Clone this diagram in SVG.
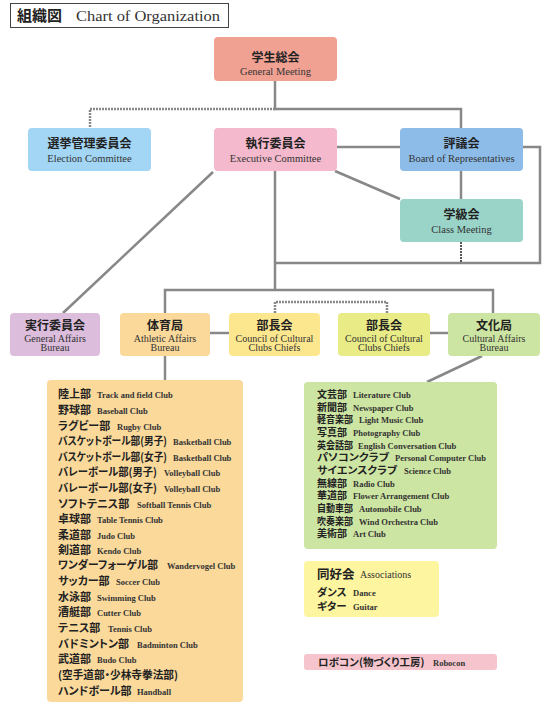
<svg xmlns="http://www.w3.org/2000/svg" width="550" height="710" viewBox="0 0 550 710">
<style>
.jp{font-family:"Noto Sans CJK JP","Noto Sans",sans-serif;font-weight:bold;fill:#222}
.en{font-family:"Liberation Serif","DejaVu Serif",serif;fill:#333;font-weight:normal}
.ln{stroke:#888;stroke-width:2.5;fill:none}
.dt{stroke:#888;stroke-width:2.5;fill:none;stroke-dasharray:2 1}
.bk{stroke:#222;stroke-width:1.5;fill:none;stroke-dasharray:2 1}
.nj{font-size:12px;text-anchor:middle}
.ne{font-size:10.5px;text-anchor:middle}
.be{font-size:10px;text-anchor:middle}
.p{font-feature-settings:"palt"}
.a .jp{font-size:11px}
.a .en{font-size:8.5px;font-weight:bold}
.c .jp{font-size:10px}
.c .en{font-size:8.5px;font-weight:bold}
.s .jp{font-size:10.5px}
.s .en{font-size:8.5px;font-weight:bold}
</style>
<rect width="550" height="710" fill="#fff"/>
<g id="title">
<rect x="10.5" y="3.5" width="218" height="24" fill="#fff" stroke="#444" stroke-width="1"/>
<text x="17" y="21" class="jp" font-size="15">組織図</text>
<text x="76" y="20.5" class="en" font-size="15" textLength="144" lengthAdjust="spacingAndGlyphs">Chart of Organization</text>
</g>
<g id="connectors">
<polyline class="ln" points="275,81 275,109 461,109 461,128"/>
<polyline class="dt" points="275,109 90,109 90,128"/>
<line class="ln" x1="275" y1="171" x2="275" y2="290"/>
<line class="ln" x1="337" y1="147" x2="400" y2="147"/>
<polyline class="ln" points="523,147 540,147 540,263 275,263"/>
<line class="ln" x1="461" y1="171" x2="461" y2="199"/>
<line class="ln" x1="335" y1="171" x2="400" y2="199"/>
<line class="bk" x1="461" y1="242" x2="461" y2="263"/>
<line class="ln" x1="213" y1="172" x2="63" y2="313"/>
<polyline class="ln" points="165,313 165,290 493,290 493,313"/>
<polyline class="dt" points="275,313 275,302 387,302 387,313"/>
<line class="ln" x1="210" y1="333" x2="229" y2="333"/>
<line class="ln" x1="430" y1="333" x2="448" y2="333"/>
<line class="ln" x1="165" y1="356" x2="165" y2="380"/>
<line class="ln" x1="482" y1="356" x2="427" y2="382"/>
</g>
<g id="general-meeting">
<rect x="214" y="37" width="123" height="44" rx="4" fill="#f0a192"/>
<text x="275.5" y="62" class="jp nj" font-size="13">学生総会</text>
<text x="275.5" y="75" class="en ne">General Meeting</text>
</g>
<g id="election-committee">
<rect x="28" y="128" width="123" height="43" rx="4" fill="#a2d6f4"/>
<text x="89.5" y="148" class="jp nj">選挙管理委員会</text>
<text x="89.5" y="162" class="en ne">Election Committee</text>
</g>
<g id="executive-committee">
<rect x="214" y="128" width="123" height="43" rx="4" fill="#f4b9cc"/>
<text x="275.5" y="148" class="jp nj">執行委員会</text>
<text x="275.5" y="162" class="en ne">Executive Committee</text>
</g>
<g id="board">
<rect x="400" y="128" width="123" height="43" rx="4" fill="#8dbce8"/>
<text x="461.5" y="148" class="jp nj">評議会</text>
<text x="461.5" y="162" class="en ne">Board of Representatives</text>
</g>
<g id="class-meeting">
<rect x="400" y="199" width="123" height="43" rx="4" fill="#9ad4c9"/>
<text x="461.5" y="219" class="jp nj">学級会</text>
<text x="461.5" y="233" class="en ne">Class Meeting</text>
</g>
<g id="general-affairs">
<rect x="10" y="313" width="90" height="43" rx="4" fill="#dcbddc"/>
<text x="55" y="329.5" class="jp nj">実行委員会</text>
<text x="55" y="341.5" class="en be">General Affairs</text>
<text x="55" y="350.5" class="en be">Bureau</text>
</g>
<g id="athletic-affairs">
<rect x="120" y="313" width="90" height="43" rx="4" fill="#fad99b"/>
<text x="165" y="329.5" class="jp nj">体育局</text>
<text x="165" y="341.5" class="en be">Athletic Affairs</text>
<text x="165" y="350.5" class="en be">Bureau</text>
</g>
<g id="council-1">
<rect x="229" y="313" width="91" height="43" rx="4" fill="#fde78e"/>
<text x="274.5" y="329.5" class="jp nj">部長会</text>
<text x="274.5" y="341.5" class="en be">Council of Cultural</text>
<text x="274.5" y="350.5" class="en be">Clubs Chiefs</text>
</g>
<g id="council-2">
<rect x="338" y="313" width="92" height="43" rx="4" fill="#e8eb86"/>
<text x="384" y="329.5" class="jp nj">部長会</text>
<text x="384" y="341.5" class="en be">Council of Cultural</text>
<text x="384" y="350.5" class="en be">Clubs Chiefs</text>
</g>
<g id="cultural-affairs">
<rect x="448" y="313" width="92" height="43" rx="4" fill="#cde5a2"/>
<text x="494" y="329.5" class="jp nj">文化局</text>
<text x="494" y="341.5" class="en be">Cultural Affairs</text>
<text x="494" y="350.5" class="en be">Bureau</text>
</g>
<g id="athletic-clubs" class="a">
<rect x="47" y="380" width="196" height="322" rx="4" fill="#fad99b"/>
<text x="58" y="398" class="jp p">陸上部</text><text x="97" y="398" class="en">Track and field Club</text>
<text x="58" y="414" class="jp p">野球部</text><text x="97" y="414" class="en">Baseball Club</text>
<text x="58" y="430" class="jp p">ラグビー部</text><text x="117" y="430" class="en">Rugby Club</text>
<text x="58" y="445" class="jp p" textLength="109" lengthAdjust="spacingAndGlyphs">バスケットボール部(男子)</text><text x="173" y="445" class="en">Basketball Club</text>
<text x="58" y="461" class="jp p" textLength="109" lengthAdjust="spacingAndGlyphs">バスケットボール部(女子)</text><text x="173" y="461" class="en">Basketball Club</text>
<text x="58" y="476" class="jp p" textLength="99" lengthAdjust="spacingAndGlyphs">バレーボール部(男子)</text><text x="164" y="476" class="en">Volleyball Club</text>
<text x="58" y="492" class="jp p" textLength="99" lengthAdjust="spacingAndGlyphs">バレーボール部(女子)</text><text x="164" y="492" class="en">Volleyball Club</text>
<text x="58" y="508" class="jp p">ソフトテニス部</text><text x="137" y="508" class="en">Softball Tennis Club</text>
<text x="58" y="523" class="jp p">卓球部</text><text x="97" y="523" class="en">Table Tennis Club</text>
<text x="58" y="539" class="jp p">柔道部</text><text x="97" y="539" class="en">Judo Club</text>
<text x="58" y="554" class="jp p">剣道部</text><text x="97" y="554" class="en">Kendo Club</text>
<text x="58" y="569" class="jp p" textLength="100" lengthAdjust="spacingAndGlyphs">ワンダーフォーゲル部</text><text x="167" y="569" class="en">Wandervogel Club</text>
<text x="58" y="585" class="jp p">サッカー部</text><text x="116" y="585" class="en">Soccer Club</text>
<text x="58" y="601" class="jp p">水泳部</text><text x="97" y="601" class="en">Swimming Club</text>
<text x="58" y="616" class="jp p">漕艇部</text><text x="97" y="616" class="en">Cutter Club</text>
<text x="58" y="632" class="jp p">テニス部</text><text x="108" y="632" class="en">Tennis Club</text>
<text x="58" y="648" class="jp p">バドミントン部</text><text x="137" y="648" class="en">Badminton Club</text>
<text x="58" y="663" class="jp p">武道部</text><text x="97" y="663" class="en">Budo Club</text>
<text x="58" y="679" class="jp p" textLength="120" lengthAdjust="spacingAndGlyphs">(空手道部・少林寺拳法部)</text>
<text x="58" y="695" class="jp p">ハンドボール部</text><text x="137" y="695" class="en">Handball</text>
</g>
<g id="cultural-clubs" class="c">
<rect x="304" y="382" width="193" height="167" rx="4" fill="#cde5a2"/>
<text x="317" y="398" class="jp p">文芸部</text><text x="353" y="398" class="en">Literature Club</text>
<text x="317" y="411" class="jp p">新聞部</text><text x="353" y="411" class="en">Newspaper Club</text>
<text x="317" y="423" class="jp p" textLength="36" lengthAdjust="spacingAndGlyphs">軽音楽部</text><text x="359" y="423" class="en">Light Music Club</text>
<text x="317" y="436" class="jp p">写真部</text><text x="353" y="436" class="en">Photography Club</text>
<text x="317" y="449" class="jp p" textLength="36" lengthAdjust="spacingAndGlyphs">英会話部</text><text x="358" y="449" class="en">English Conversation Club</text>
<text x="317" y="461" class="jp p" textLength="72" lengthAdjust="spacingAndGlyphs">パソコンクラブ</text><text x="395" y="461" class="en">Personal Computer Club</text>
<text x="317" y="474" class="jp p" textLength="80" lengthAdjust="spacingAndGlyphs">サイエンスクラブ</text><text x="404" y="474" class="en">Science Club</text>
<text x="317" y="487" class="jp p">無線部</text><text x="353" y="487" class="en">Radio Club</text>
<text x="317" y="499" class="jp p">華道部</text><text x="353" y="499" class="en">Flower Arrangement Club</text>
<text x="317" y="512" class="jp p" textLength="36" lengthAdjust="spacingAndGlyphs">自動車部</text><text x="359" y="512" class="en">Automobile Club</text>
<text x="317" y="525" class="jp p" textLength="36" lengthAdjust="spacingAndGlyphs">吹奏楽部</text><text x="359" y="525" class="en">Wind Orchestra Club</text>
<text x="317" y="537" class="jp p">美術部</text><text x="353" y="537" class="en">Art Club</text>
</g>
<g id="associations" class="s">
<rect x="304" y="561" width="135" height="56" rx="4" fill="#fdf59f"/>
<text x="317" y="579" class="jp" style="font-size:12.5px">同好会</text><text x="360" y="578" class="en" style="font-size:10px;font-weight:normal">Associations</text>
<text x="317" y="596" class="jp p">ダンス</text><text x="353" y="596" class="en">Dance</text>
<text x="317" y="610" class="jp p">ギター</text><text x="353" y="610" class="en">Guitar</text>
</g>
<g id="robocon" class="s">
<rect x="304" y="654" width="193" height="16" rx="3" fill="#f6c4cc"/>
<text x="318" y="666" class="jp p">ロボコン(物づくり工房)</text><text x="433" y="666" class="en">Robocon</text>
</g>
</svg>
